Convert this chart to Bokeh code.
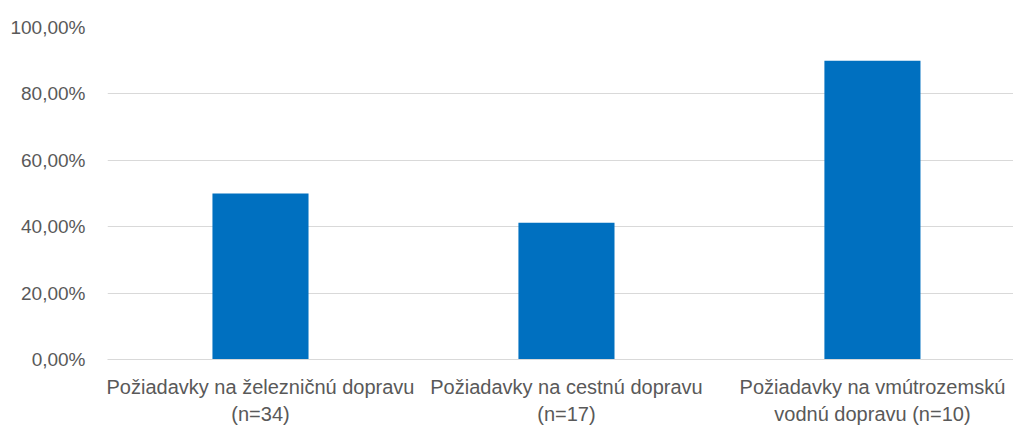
from bokeh.plotting import figure
from bokeh.models import Range1d, FixedTicker
from bokeh.embed import file_html
from bokeh.resources import INLINE

categories = [
    "Požiadavky na železničnú dopravu\n(n=34)",
    "Požiadavky na cestnú dopravu\n(n=17)",
    "Požiadavky na vmútrozemskú\nvodnú dopravu (n=10)",
]
values = [0.50, 0.4118, 0.90]
y_ticks = [0.0, 0.2, 0.4, 0.6, 0.8, 1.0]
y_labels = ["0,00%", "20,00%", "40,00%", "60,00%", "80,00%", "100,00%"]

xs = list(range(len(categories)))

p = figure(width=1013, height=428, output_backend="svg", toolbar_location=None,
           x_range=Range1d(-0.5, 2.461), y_range=Range1d(0, 1.0),
           min_border_left=107, min_border_right=0, min_border_top=27, min_border_bottom=69)
p.outline_line_color = None
p.background_fill_color = "white"
p.border_fill_color = "white"

p.vbar(x=xs, top=values, width=0.314, bottom=0, fill_color="#0070C0", line_color=None)

p.xgrid.grid_line_color = None
p.ygrid.grid_line_color = "#D9D9D9"
p.ygrid.grid_line_width = 1
p.ygrid.ticker = FixedTicker(ticks=y_ticks)

p.yaxis.ticker = FixedTicker(ticks=y_ticks)
p.yaxis.major_label_overrides = {t: l for t, l in zip(y_ticks, y_labels)}
p.yaxis.axis_line_color = None
p.yaxis.major_tick_line_color = None
p.yaxis.minor_tick_line_color = None
p.yaxis.major_tick_out = 0
p.yaxis.major_tick_in = 0
p.yaxis.major_label_standoff = 22
p.yaxis.major_label_text_font = "Liberation Sans"
p.yaxis.major_label_text_font_size = "19px"
p.yaxis.major_label_text_color = "#595959"

p.xaxis.ticker = FixedTicker(ticks=xs)
p.xaxis.major_label_overrides = {i: c for i, c in zip(xs, categories)}
p.xaxis.axis_line_color = "#D9D9D9"
p.xaxis.axis_line_width = 1
p.xaxis.major_tick_line_color = None
p.xaxis.minor_tick_line_color = None
p.xaxis.major_tick_out = 0
p.xaxis.major_tick_in = 0
p.xaxis.major_label_standoff = 16
p.xaxis.major_label_text_font = "Liberation Sans"
p.xaxis.major_label_text_font_size = "20px"
p.xaxis.major_label_text_color = "#595959"
p.xaxis.major_label_text_line_height = 1.25

open("out.html", "w").write(file_html(p, INLINE))
